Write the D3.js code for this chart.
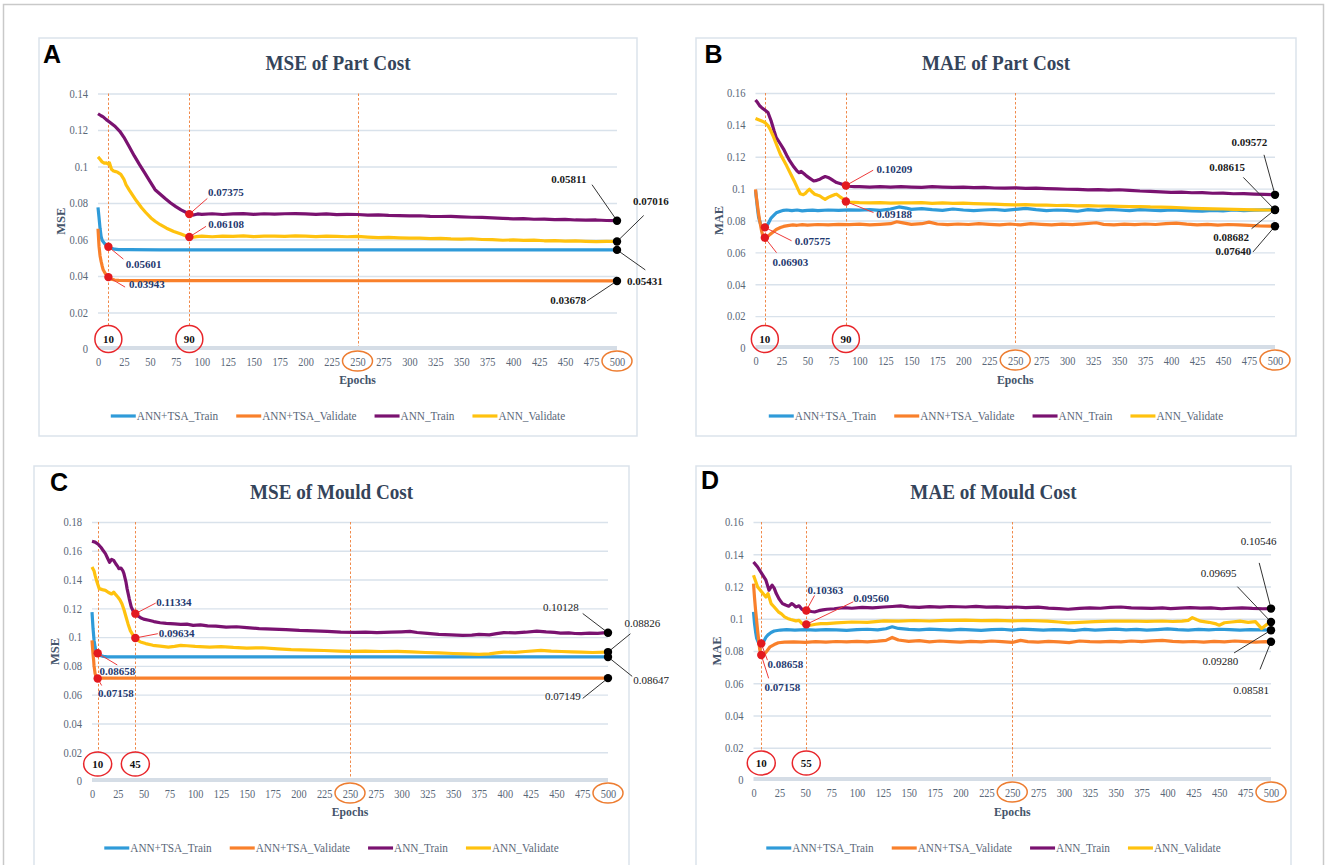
<!DOCTYPE html>
<html><head><meta charset="utf-8">
<script src="https://cdn.jsdelivr.net/npm/d3@7"></script>
<style>
body{margin:0;background:#fff}
svg{display:block}
text{font-family:"Liberation Serif","Times New Roman",serif}
</style>
</head><body>
<svg id="chart" width="1327" height="865"></svg>
<script>
// ---------------- DATA ----------------
const seriesNames = ["ANN+TSA_Train","ANN+TSA_Validate","ANN_Train","ANN_Validate"];
const seriesColors = ["#2f9bd9","#f9802b","#7a1270","#ffc20e"];
const xTicks = [0,25,50,75,100,125,150,175,200,225,250,275,300,325,350,375,400,425,450,475,500];
const yTicksA = [0,0.02,0.04,0.06,0.08,0.1,0.12,0.14];
const yTicksB = [0,0.02,0.04,0.06,0.08,0.1,0.12,0.14,0.16];
const yTicksC = [0,0.02,0.04,0.06,0.08,0.1,0.12,0.14,0.16,0.18];
const yTicksD = [0,0.02,0.04,0.06,0.08,0.1,0.12,0.14,0.16];

// Panel A: MSE of Part Cost  [epoch, value]
const A_tsaTrain = [[0,0.0776],[1,0.0720],[2,0.0660],[3,0.0617],[4,0.0596],[6,0.0580],[8,0.0568],[10,0.0560],[13,0.0552],[16,0.0547],[20,0.0545],[30,0.0544],[60,0.0543],[250,0.0543],[500,0.0543]];
const A_tsaVal = [[0,0.0659],[1,0.0562],[2,0.0510],[3,0.0480],[4,0.0455],[5,0.0434],[7,0.0414],[10,0.0394],[13,0.0383],[16,0.0378],[20,0.0376],[40,0.0375],[100,0.0375],[250,0.0374],[400,0.0374],[500,0.0373]];
const A_annTrain = [[0,0.1289],[3,0.1278],[5,0.1272],[8,0.1257],[12,0.1240],[16,0.1222],[21,0.1193],[25,0.1160],[30,0.1110],[35,0.1058],[40,0.1010],[45,0.0965],[49,0.0928],[55,0.0873],[60,0.0848],[65,0.0823],[70,0.0800],[75,0.0780],[80,0.0762],[86,0.0745],[88,0.0739],[92,0.0734],[96,0.0740],[100,0.0738],[110,0.0741],[120,0.0737],[130,0.0740],[140,0.0742],[150,0.0738],[160,0.0741],[170,0.0739],[180,0.0741],[190,0.0742],[200,0.0740],[210,0.0738],[220,0.0740],[230,0.0736],[240,0.0738],[250,0.0737],[260,0.0734],[270,0.0735],[280,0.0732],[290,0.0731],[300,0.0729],[310,0.0730],[320,0.0727],[330,0.0726],[340,0.0727],[350,0.0724],[360,0.0722],[370,0.0721],[380,0.0718],[390,0.0716],[400,0.0713],[410,0.0714],[420,0.0711],[430,0.0712],[440,0.0709],[450,0.0710],[460,0.0707],[470,0.0706],[480,0.0707],[490,0.0704],[500,0.0703]];
const A_annVal = [[0,0.1053],[2,0.1040],[4,0.1025],[6,0.1018],[8,0.1020],[10,0.1012],[11,0.1020],[13,0.0985],[15,0.0975],[17,0.0972],[19,0.0968],[22,0.0957],[25,0.0930],[27,0.0900],[30,0.0872],[33,0.0846],[37,0.0812],[42,0.0774],[46,0.0748],[51,0.0718],[55,0.0700],[60,0.0681],[66,0.0662],[73,0.0644],[80,0.0630],[86,0.0617],[90,0.0611],[95,0.0616],[100,0.0618],[110,0.0615],[120,0.0619],[130,0.0617],[140,0.0620],[150,0.0616],[160,0.0618],[170,0.0619],[180,0.0617],[190,0.0620],[200,0.0618],[210,0.0616],[220,0.0619],[230,0.0617],[240,0.0615],[250,0.0617],[260,0.0613],[270,0.0610],[280,0.0612],[290,0.0609],[300,0.0607],[310,0.0608],[320,0.0605],[330,0.0606],[340,0.0603],[350,0.0602],[360,0.0604],[370,0.0600],[380,0.0599],[390,0.0596],[400,0.0598],[410,0.0595],[420,0.0597],[430,0.0593],[440,0.0594],[450,0.0591],[460,0.0592],[470,0.0590],[480,0.0588],[490,0.0590],[500,0.0589]];

// Panel B: MAE of Part Cost
const B_tsaTrain = [[0,0.0990],[1,0.0930],[2,0.0870],[3,0.0820],[5,0.0775],[7,0.0758],[9,0.0757],[11,0.0768],[13,0.0790],[15,0.0815],[18,0.0835],[20,0.0848],[24,0.0858],[27,0.0864],[30,0.0866],[35,0.0862],[40,0.0866],[45,0.0860],[50,0.0863],[55,0.0865],[60,0.0862],[70,0.0866],[80,0.0864],[90,0.0867],[100,0.0865],[110,0.0868],[120,0.0864],[130,0.0872],[138,0.0885],[145,0.0878],[150,0.0870],[160,0.0875],[170,0.0868],[180,0.0864],[190,0.0872],[200,0.0866],[210,0.0862],[220,0.0866],[230,0.0869],[240,0.0864],[250,0.0870],[260,0.0876],[270,0.0868],[280,0.0862],[290,0.0866],[300,0.0863],[310,0.0858],[320,0.0868],[330,0.0864],[340,0.0870],[350,0.0866],[360,0.0862],[370,0.0868],[380,0.0865],[390,0.0862],[400,0.0866],[410,0.0863],[420,0.0860],[430,0.0858],[440,0.0864],[450,0.0860],[460,0.0866],[470,0.0862],[480,0.0865],[490,0.0867],[500,0.0868]];
const B_tsaVal = [[0,0.0995],[1,0.0940],[2,0.0890],[3,0.0840],[4,0.0800],[5,0.0765],[6,0.0730],[7,0.0705],[9,0.0692],[11,0.0695],[14,0.0713],[17,0.0728],[20,0.0744],[24,0.0756],[27,0.0763],[31,0.0768],[36,0.0772],[40,0.0770],[45,0.0774],[50,0.0771],[60,0.0775],[70,0.0772],[80,0.0776],[90,0.0774],[100,0.0777],[110,0.0773],[120,0.0776],[130,0.0780],[136,0.0792],[142,0.0785],[150,0.0776],[160,0.0780],[167,0.0790],[175,0.0778],[185,0.0774],[195,0.0778],[205,0.0775],[215,0.0780],[225,0.0776],[235,0.0773],[245,0.0778],[255,0.0772],[265,0.0780],[275,0.0776],[285,0.0773],[295,0.0777],[305,0.0774],[315,0.0779],[328,0.0786],[335,0.0776],[345,0.0773],[355,0.0777],[365,0.0774],[375,0.0778],[385,0.0775],[395,0.0780],[405,0.0784],[415,0.0777],[425,0.0773],[435,0.0776],[445,0.0771],[455,0.0775],[465,0.0773],[475,0.0770],[485,0.0766],[495,0.0765],[500,0.0764]];
const B_annTrain = [[0,0.1556],[2,0.1540],[4,0.1520],[6,0.1508],[9,0.1493],[12,0.1478],[15,0.1426],[18,0.1360],[20,0.1320],[24,0.1280],[27,0.1248],[30,0.1210],[33,0.1174],[37,0.1135],[40,0.1110],[42,0.1100],[44,0.1108],[47,0.1092],[49,0.1080],[52,0.1066],[56,0.1048],[59,0.1052],[62,0.1059],[65,0.1070],[67,0.1076],[70,0.1070],[72,0.1063],[75,0.1050],[78,0.1038],[82,0.1030],[86,0.1021],[90,0.1015],[95,0.1013],[100,0.1012],[110,0.1010],[120,0.1013],[130,0.1009],[140,0.1012],[150,0.1010],[160,0.1008],[170,0.1012],[180,0.1010],[190,0.1008],[200,0.1010],[210,0.1006],[220,0.1008],[230,0.1004],[240,0.1003],[250,0.1005],[260,0.1002],[270,0.1003],[280,0.1000],[290,0.0998],[300,0.0996],[310,0.0995],[320,0.0992],[330,0.0994],[340,0.0991],[350,0.0993],[360,0.0989],[370,0.0985],[380,0.0983],[390,0.0980],[400,0.0976],[410,0.0978],[420,0.0974],[430,0.0975],[440,0.0971],[450,0.0972],[460,0.0968],[470,0.0969],[480,0.0966],[490,0.0964],[500,0.0961]];
const B_annVal = [[0,0.1440],[3,0.1432],[6,0.1424],[9,0.1415],[12,0.1395],[14,0.1373],[17,0.1330],[20,0.1280],[24,0.1215],[27,0.1180],[30,0.1143],[34,0.1090],[38,0.1038],[41,0.0995],[43,0.0968],[46,0.0962],[48,0.0970],[50,0.0985],[52,0.0996],[54,0.0982],[57,0.0965],[60,0.0958],[62,0.0954],[65,0.0940],[67,0.0933],[70,0.0945],[73,0.0954],[76,0.0962],[78,0.0965],[81,0.0950],[85,0.0933],[87,0.0919],[90,0.0916],[95,0.0914],[100,0.0912],[110,0.0910],[120,0.0912],[130,0.0909],[140,0.0911],[150,0.0910],[160,0.0912],[170,0.0908],[180,0.0910],[190,0.0907],[200,0.0909],[210,0.0906],[220,0.0904],[230,0.0903],[240,0.0900],[250,0.0898],[260,0.0900],[270,0.0897],[280,0.0896],[290,0.0894],[300,0.0895],[310,0.0892],[320,0.0893],[330,0.0891],[340,0.0890],[350,0.0889],[360,0.0887],[370,0.0888],[380,0.0885],[390,0.0884],[400,0.0882],[410,0.0880],[420,0.0877],[430,0.0875],[440,0.0873],[450,0.0872],[460,0.0870],[470,0.0868],[480,0.0867],[490,0.0866],[500,0.0866]];

// Panel C: MSE of Mould Cost
const C_tsaTrain = [[0,0.1174],[1,0.1060],[2,0.0977],[3,0.0930],[4,0.0896],[6,0.0885],[8,0.0872],[11,0.0866],[15,0.0863],[30,0.0862],[250,0.0862],[500,0.0862]];
const C_tsaVal = [[0,0.0977],[1,0.0880],[1.6,0.0839],[2,0.0800],[3,0.0746],[4,0.0722],[5,0.0712],[7,0.0713],[10,0.0715],[250,0.0715],[500,0.0715]];
const C_annTrain = [[0,0.1666],[3,0.1660],[6,0.1645],[9,0.1621],[11,0.1600],[13,0.1580],[15,0.1550],[17,0.1520],[19,0.1540],[21,0.1533],[23,0.1510],[25,0.1490],[26,0.1476],[28,0.1480],[30,0.1460],[31,0.1440],[33,0.1380],[34,0.1337],[36,0.1270],[38,0.1210],[40,0.1180],[42,0.1163],[45,0.1145],[47,0.1135],[50,0.1125],[55,0.1117],[60,0.1108],[66,0.1100],[72,0.1096],[80,0.1092],[86,0.1089],[92,0.1090],[98,0.1082],[105,0.1085],[112,0.1078],[120,0.1076],[130,0.1070],[140,0.1072],[150,0.1066],[162,0.1059],[175,0.1056],[188,0.1052],[201,0.1047],[215,0.1044],[228,0.1040],[241,0.1035],[255,0.1033],[265,0.1034],[276,0.1031],[290,0.1034],[300,0.1037],[308,0.1040],[315,0.1032],[325,0.1026],[336,0.1019],[348,0.1015],[359,0.1012],[368,0.1014],[375,0.1019],[385,0.1016],[392,0.1024],[399,0.1031],[410,0.1030],[420,0.1034],[431,0.1042],[440,0.1036],[448,0.1033],[454,0.1028],[462,0.1030],[468,0.1025],[474,0.1024],[482,0.1028],[490,0.1026],[498,0.1031],[500,0.1030]];
const C_annVal = [[0,0.1487],[2,0.1460],[3,0.1429],[5,0.1380],[7,0.1337],[10,0.1330],[13,0.1325],[16,0.1310],[19,0.1300],[21,0.1313],[23,0.1295],[25,0.1279],[27,0.1260],[29,0.1232],[31,0.1190],[33,0.1140],[35,0.1090],[37,0.1047],[40,0.1010],[42,0.0994],[45,0.0975],[47,0.0966],[52,0.0955],[59,0.0943],[66,0.0937],[74,0.0931],[80,0.0936],[86,0.0943],[92,0.0940],[100,0.0935],[114,0.0931],[125,0.0934],[137,0.0928],[150,0.0924],[165,0.0926],[180,0.0918],[193,0.0913],[210,0.0910],[225,0.0907],[240,0.0903],[249,0.0901],[265,0.0903],[280,0.0900],[296,0.0901],[310,0.0897],[323,0.0893],[336,0.0890],[350,0.0886],[362,0.0884],[375,0.0880],[385,0.0884],[392,0.0890],[399,0.0896],[410,0.0894],[420,0.0900],[435,0.0908],[445,0.0902],[455,0.0900],[465,0.0898],[474,0.0896],[485,0.0893],[498,0.0896],[500,0.0896]];

// Panel D: MAE of Mould Cost
const D_tsaTrain = [[0,0.1043],[1,0.0970],[2,0.0920],[3,0.0880],[5,0.0848],[8,0.0846],[10,0.0860],[12,0.0885],[14,0.0900],[17,0.0915],[20,0.0924],[26,0.0930],[32,0.0933],[40,0.0930],[50,0.0932],[60,0.0929],[70,0.0933],[80,0.0931],[90,0.0928],[100,0.0932],[110,0.0935],[120,0.0931],[128,0.0938],[134,0.0950],[140,0.0940],[150,0.0934],[160,0.0931],[170,0.0936],[180,0.0933],[190,0.0930],[200,0.0934],[210,0.0931],[220,0.0928],[230,0.0933],[240,0.0935],[250,0.0930],[260,0.0936],[270,0.0932],[280,0.0929],[290,0.0933],[300,0.0931],[310,0.0927],[320,0.0934],[330,0.0930],[340,0.0933],[350,0.0936],[360,0.0931],[370,0.0934],[380,0.0930],[390,0.0933],[400,0.0937],[410,0.0932],[420,0.0929],[430,0.0934],[440,0.0931],[450,0.0935],[460,0.0932],[470,0.0930],[480,0.0933],[490,0.0931],[500,0.0929]];
const D_tsaVal = [[0,0.1218],[1,0.1130],[2,0.1053],[3,0.0990],[4,0.0925],[5,0.0867],[6,0.0810],[7,0.0780],[8,0.0770],[10,0.0776],[13,0.0800],[16,0.0826],[20,0.0840],[24,0.0851],[30,0.0855],[39,0.0857],[50,0.0853],[60,0.0858],[70,0.0855],[80,0.0859],[90,0.0856],[100,0.0860],[110,0.0857],[120,0.0861],[128,0.0866],[134,0.0884],[140,0.0868],[150,0.0860],[160,0.0864],[170,0.0857],[180,0.0862],[190,0.0858],[200,0.0855],[210,0.0860],[220,0.0857],[230,0.0862],[240,0.0858],[250,0.0853],[258,0.0866],[265,0.0858],[275,0.0855],[285,0.0860],[295,0.0856],[305,0.0852],[315,0.0862],[325,0.0858],[335,0.0856],[345,0.0860],[355,0.0857],[365,0.0862],[375,0.0858],[385,0.0863],[395,0.0866],[405,0.0860],[415,0.0856],[425,0.0859],[435,0.0855],[445,0.0860],[455,0.0857],[465,0.0862],[475,0.0858],[485,0.0855],[495,0.0858],[500,0.0857]];
const D_annTrain = [[0,0.1352],[4,0.1321],[8,0.1280],[12,0.1239],[15,0.1177],[18,0.1208],[20,0.1190],[22,0.1156],[25,0.1120],[28,0.1094],[31,0.1085],[34,0.1078],[37,0.1094],[39,0.1085],[41,0.1073],[44,0.1080],[47,0.1057],[50,0.1052],[53,0.1049],[56,0.1045],[59,0.1042],[63,0.1050],[67,0.1055],[71,0.1059],[78,0.1062],[87,0.1069],[95,0.1065],[105,0.1070],[115,0.1068],[126,0.1073],[134,0.1076],[142,0.1080],[150,0.1074],[160,0.1071],[170,0.1075],[180,0.1072],[190,0.1076],[205,0.1073],[215,0.1077],[225,0.1072],[235,0.1074],[245,0.1071],[253,0.1073],[263,0.1069],[275,0.1072],[285,0.1066],[295,0.1063],[304,0.1059],[315,0.1064],[325,0.1068],[335,0.1065],[345,0.1070],[355,0.1073],[365,0.1068],[375,0.1066],[385,0.1064],[395,0.1067],[403,0.1063],[412,0.1066],[422,0.1069],[432,0.1066],[442,0.1067],[452,0.1062],[462,0.1065],[472,0.1068],[482,0.1064],[492,0.1062],[500,0.1063]];
const D_annVal = [[0,0.1270],[4,0.1197],[8,0.1166],[12,0.1135],[14,0.1156],[17,0.1094],[20,0.1073],[24,0.1043],[27,0.1030],[30,0.1012],[33,0.1002],[36,0.0995],[41,0.0987],[44,0.0990],[47,0.0970],[51,0.0965],[55,0.0960],[60,0.0966],[65,0.0970],[71,0.0970],[80,0.0975],[95,0.0980],[110,0.0978],[126,0.0987],[140,0.0985],[155,0.0989],[170,0.0986],[185,0.0990],[205,0.0991],[220,0.0988],[235,0.0990],[250,0.0987],[265,0.0989],[284,0.0985],[295,0.0980],[304,0.0974],[315,0.0978],[330,0.0982],[345,0.0985],[363,0.0986],[380,0.0984],[395,0.0986],[405,0.0983],[414,0.0985],[420,0.0990],[424,0.1007],[428,0.0995],[432,0.0985],[440,0.0978],[447,0.0968],[450,0.0960],[455,0.0975],[462,0.0980],[470,0.0985],[478,0.0978],[485,0.0982],[491,0.0939],[495,0.0960],[500,0.0980]];

// highlighted epochs (dashed markers) and their circled labels
const markEpochsA = [10, 88];  const markLabelsA = ["10","90"];
const markEpochsB = [9, 87];   const markLabelsB = ["10","90"];
const markEpochsC = [5.5, 42]; const markLabelsC = ["10","45"];
const markEpochsD = [7.5, 51]; const markLabelsD = ["10","55"];
const ringedTicks = [250, 500];

// annotation labels: series index, epoch, text, kind
const annotA = [
  {s:0,e:10,t:"0.05601",k:"red"},{s:1,e:10,t:"0.03943",k:"red"},
  {s:2,e:88,t:"0.07375",k:"red"},{s:3,e:88,t:"0.06108",k:"red"},
  {s:2,e:500,t:"0.05811",k:"black"},{s:3,e:500,t:"0.07016",k:"black"},
  {s:0,e:500,t:"0.05431",k:"black"},{s:1,e:500,t:"0.03678",k:"black"}];
const annotB = [
  {s:0,e:9,t:"0.07575",k:"red"},{s:1,e:9,t:"0.06903",k:"red"},
  {s:2,e:87,t:"0.10209",k:"red"},{s:3,e:87,t:"0.09188",k:"red"},
  {s:2,e:500,t:"0.09572",k:"black"},{s:3,e:500,t:"0.08615",k:"black"},
  {s:0,e:500,t:"0.08682",k:"black"},{s:1,e:500,t:"0.07640",k:"black"}];
const annotC = [
  {s:0,e:5.5,t:"0.08658",k:"red"},{s:1,e:5.5,t:"0.07158",k:"red"},
  {s:2,e:42,t:"0.11334",k:"red"},{s:3,e:42,t:"0.09634",k:"red"},
  {s:2,e:500,t:"0.10128",k:"black"},{s:3,e:500,t:"0.08826",k:"black"},
  {s:0,e:500,t:"0.08647",k:"black"},{s:1,e:500,t:"0.07149",k:"black"}];
const annotD = [
  {s:0,e:7.5,t:"0.08658",k:"red"},{s:1,e:7.5,t:"0.07158",k:"red"},
  {s:2,e:51,t:"0.10363",k:"red"},{s:3,e:51,t:"0.09560",k:"red"},
  {s:2,e:500,t:"0.10546",k:"black"},{s:3,e:500,t:"0.09695",k:"black"},
  {s:0,e:500,t:"0.09280",k:"black"},{s:1,e:500,t:"0.08581",k:"black"}];

// ---------------- LAYOUT ----------------
// label placement offsets (line end lx,ly ; text tx,ty ; anchor) relative to the dot, per annotation
const placeA = [[15,12.3,17.4,17.3,"start"],[16.7,10,20.7,7.5,"start"],[18,-15.7,18.6,-21.7,"start"],[16.7,-10.6,19,-13,"start"],
  [-25,-36,-65.7,-41.7,"start"],[26.7,-26,16,-40.3,"start"],[28.3,20,10,31.6,"start"],[-30,20,-31,19.3,"end"]];
const placeB = [[26.7,13.4,30,13.4,"start"],[11.7,15,7.7,24.4,"start"],[27.3,-15.3,30.6,-16,"start"],[27.6,11,30.3,12.6,"start"],
  [-11,-40,-7.7,-52.3,"end"],[-31.7,-32.6,-30,-42.6,"end"],[-23.4,19,-26,27.4,"end"],[-22,25.7,-23.7,24.7,"end"]];
const placeC = [[19.6,11.7,1.8,17.4,"start"],[4,7,0.4,14.4,"start"],[20.4,-10.6,21,-11.6,"start"],[22.5,-4.3,23.3,-5,"start"],
  [-25.3,-19.3,-29.3,-26,"end"],[22.4,-18.3,16.4,-29.3,"start"],[24.2,19.4,25.2,23.4,"start"],[-25.3,20.3,-27.3,18.3,"end"]];
const placeD = [[6.2,16.7,6.2,20.7,"start"],[7.4,23.3,3.3,32.6,"start"],[8.2,-15,1.3,-20.7,"start"],[47,-22.6,47,-26,"start"],
  [-11.8,-45.7,5.4,-67.3,"end"],[-33.6,-35.3,-34.6,-49.3,"end"],[-36.9,22.7,-32.7,30.7,"end"],[-11,27.6,-2,48.6,"end"]];

const panels = [
  {letter:"A", title:"MSE of Part Cost", yLabel:"MSE", yMax:0.14, yTicks:yTicksA,
   series:[A_tsaTrain,A_tsaVal,A_annTrain,A_annVal], marks:markEpochsA, markLabels:markLabelsA, annot:annotA, place:placeA,
   box:[39,38,637,436], px:[98,617], py:[349,93.5], letterPos:[43,62.5], titleY:70, yLabelX:61, tickDy:8, epochsY:384, legendY:416, circOff:10, circR:[13.5,13.5], blackBold:true},
  {letter:"B", title:"MAE of Part Cost", yLabel:"MAE", yMax:0.16, yTicks:yTicksB,
   series:[B_tsaTrain,B_tsaVal,B_annTrain,B_annVal], marks:markEpochsB, markLabels:markLabelsB, annot:annotB, place:placeB,
   box:[696,38,1296,436], px:[755.5,1275], py:[348,93], letterPos:[704.5,63], titleY:70, yLabelX:719, tickDy:8, epochsY:384, legendY:416, circOff:9, circR:[13.5,13.5], blackBold:true},
  {letter:"C", title:"MSE of Mould Cost", yLabel:"MSE", yMax:0.18, yTicks:yTicksC,
   series:[C_tsaTrain,C_tsaVal,C_annTrain,C_annVal], marks:markEpochsC, markLabels:markLabelsC, annot:annotC, place:placeC,
   box:[34,466,629,872], px:[92,608], py:[781,522], letterPos:[50,491], titleY:499, yLabelX:55, tickDy:8, epochsY:816, legendY:848, circOff:17, circR:[14,12], blackBold:false},
  {letter:"D", title:"MAE of Mould Cost", yLabel:"MAE", yMax:0.16, yTicks:yTicksD,
   series:[D_tsaTrain,D_tsaVal,D_annTrain,D_annVal], marks:markEpochsD, markLabels:markLabelsD, annot:annotD, place:placeD,
   box:[696,466,1291,872], px:[753.5,1271], py:[780,522], letterPos:[701,489], titleY:499, yLabelX:717, tickDy:8, epochsY:816, legendY:848, circOff:17, circR:[14,12], blackBold:false}
];

// ---------------- DRAW ----------------
const svg = d3.select("#chart");
svg.append("rect").attr("x",3.5).attr("y",4.5).attr("width",1320).attr("height",872)
  .attr("fill","none").attr("stroke","#c9c9c9").attr("stroke-width",1.5);

function valueAt(data, e){
  const i = d3.bisector(d=>d[0]).left(data, e);
  if (i <= 0) return data[0][1];
  if (i >= data.length) return data[data.length-1][1];
  const a = data[i-1], b = data[i];
  if (b[0] === e) return b[1];
  return a[1] + (b[1]-a[1])*(e-a[0])/(b[0]-a[0]);
}
const fmtY = v => String(+v.toFixed(2));
const crisp = v => Math.round(v) + 0.5;
// horizontally condensed text placed at (x,y)
function sqText(parent, x, y, str, sx){
  return parent.append("text").attr("transform",`translate(${x},${y}) scale(${sx},1)`).text(str);
}

panels.forEach(p => {
  const g = svg.append("g");
  const [bx0,by0,bx1,by1] = p.box;
  g.append("rect").attr("x",bx0).attr("y",by0).attr("width",bx1-bx0).attr("height",by1-by0)
    .attr("fill","#fff").attr("stroke","#dbe3eb").attr("stroke-width",1.5);

  const x = d3.scaleLinear().domain([0,500]).range(p.px);
  const y = d3.scaleLinear().domain([0,p.yMax]).range(p.py);
  const bcx = (bx0+bx1)/2;

  // panel letter and title
  g.append("text").attr("x",p.letterPos[0]).attr("y",p.letterPos[1]).text(p.letter)
    .style("font-family","'Liberation Sans',Arial,sans-serif").style("font-weight","bold").style("font-size","25px").attr("fill","#000");
  sqText(g, bcx, p.titleY, p.title, 0.87).attr("text-anchor","middle")
    .style("font-weight","bold").style("font-size","22px").attr("fill","#34445a");

  // y axis with gridlines
  const yAxis = d3.axisLeft(y).tickValues(p.yTicks).tickFormat(fmtY)
    .tickSize(-(p.px[1]-p.px[0])).tickPadding(10);
  const ya = g.append("g").attr("transform",`translate(${p.px[0]},0)`).call(yAxis);
  ya.select(".domain").remove();
  ya.selectAll(".tick line").attr("stroke","#d9e2eb").attr("stroke-width",1.4)
    .filter(d=>d===0).remove();
  ya.selectAll(".tick text").style("font-family","'Liberation Serif',serif").style("font-size","12px").attr("fill","#5a6778")
    .attr("x",0).attr("transform","translate(-10,0) scale(0.88,1)");

  // zero baseline (thick)
  g.append("line").attr("x1",p.px[0]).attr("x2",p.px[1]).attr("y1",y(0)-1).attr("y2",y(0)-1)
    .attr("stroke","#d5dde6").attr("stroke-width",4);

  // x axis labels
  const xAxis = d3.axisBottom(x).tickValues(xTicks).tickSize(0).tickPadding(p.tickDy);
  const xa = g.append("g").attr("transform",`translate(0,${p.py[0]})`).call(xAxis);
  xa.select(".domain").remove();
  xa.selectAll(".tick text").style("font-family","'Liberation Serif',serif").style("font-size","12px").attr("fill","#5a6778")
    .attr("transform","scale(0.86,1)");

  // axis titles
  sqText(g, (p.px[0]+p.px[1])/2, p.epochsY, "Epochs", 0.9).attr("text-anchor","middle")
    .style("font-weight","bold").style("font-size","13px").attr("fill","#44546a");
  const yMid = (p.py[0]+p.py[1])/2;
  g.append("text").attr("transform",`translate(${p.yLabelX+4},${yMid}) rotate(-90)`).attr("text-anchor","middle").text(p.yLabel)
    .style("font-weight","bold").style("font-size","12.5px").attr("fill","#44546a");

  // dashed vertical markers
  const circY = y(0) - p.circOff;
  p.marks.forEach((e,i) => {
    g.append("line").attr("x1",crisp(x(e))).attr("x2",crisp(x(e))).attr("y1",p.py[1]).attr("y2",circY - p.circR[1])
      .attr("stroke","#f08a4b").attr("stroke-width",1).attr("stroke-dasharray","2.5,2");
  });
  g.append("line").attr("x1",crisp(x(250))).attr("x2",crisp(x(250))).attr("y1",p.py[1]).attr("y2",y(0)-3)
    .attr("stroke","#f08a4b").attr("stroke-width",1).attr("stroke-dasharray","2.5,2");

  // series lines
  const line = d3.line().x(d=>x(d[0])).y(d=>y(d[1]));
  p.series.forEach((s,i) => {
    g.append("path").datum(s).attr("d",line).attr("fill","none")
      .attr("stroke",seriesColors[i]).attr("stroke-width",3.2).attr("stroke-linejoin","round");
  });

  // circled marker labels
  p.marks.forEach((e,i) => {
    g.append("ellipse").attr("cx",x(e)).attr("cy",circY).attr("rx",p.circR[0]).attr("ry",p.circR[1])
      .attr("fill","none").attr("stroke","#e8262b").attr("stroke-width",1.5);
    g.append("text").attr("x",x(e)).attr("y",circY).attr("dy","0.35em").attr("text-anchor","middle")
      .text(p.markLabels[i]).style("font-weight","bold").style("font-size","11px").attr("fill","#111");
  });
  // ringed tick labels
  ringedTicks.forEach(t => {
    g.append("ellipse").attr("cx",x(t)).attr("cy",y(0)+p.tickDy+4).attr("rx",15).attr("ry",10)
      .attr("fill","none").attr("stroke","#ed7d31").attr("stroke-width",1.5);
  });

  // annotations
  p.annot.forEach((a,i) => {
    const [lx,ly,tx,ty,anc] = p.place[i];
    const cx = x(a.e), cy = y(valueAt(p.series[a.s], a.e));
    const red = a.k === "red";
    g.append("line").attr("x1",cx).attr("y1",cy).attr("x2",cx+lx).attr("y2",cy+ly)
      .attr("stroke", red ? "#ee3b3b" : "#333").attr("stroke-width",1);
    g.append("circle").attr("cx",cx).attr("cy",cy).attr("r",4.2)
      .attr("fill", red ? "#e3191f" : "#000");
    g.append("text").attr("x",cx+tx).attr("y",cy+ty).attr("dy","0.35em").attr("text-anchor",anc).text(a.t)
      .style("font-weight", (red || p.blackBold) ? "bold" : "normal").style("font-size","11px")
      .attr("fill", red ? "#1f3a70" : "#1a1a1a");
  });

  // legend
  const lg = g.append("g");
  const items = seriesNames.map((n,i) => {
    const it = lg.append("g");
    it.append("line").attr("x1",0).attr("x2",25).attr("y1",0).attr("y2",0)
      .attr("stroke",seriesColors[i]).attr("stroke-width",3.2);
    const tt = it.append("text").attr("dy","0.35em").attr("transform","translate(26,0) scale(0.9,1)").text(n)
      .style("font-size","12.5px").attr("fill","#5a6778");
    return {it, w: 26 + 0.9*tt.node().getComputedTextLength()};
  });
  const gap = 18;
  const total = d3.sum(items, d=>d.w) + gap*(items.length-1);
  let cur = bcx - total/2;
  items.forEach(d => { d.it.attr("transform",`translate(${cur},${p.legendY})`); cur += d.w + gap; });
});
</script>
</body></html>
